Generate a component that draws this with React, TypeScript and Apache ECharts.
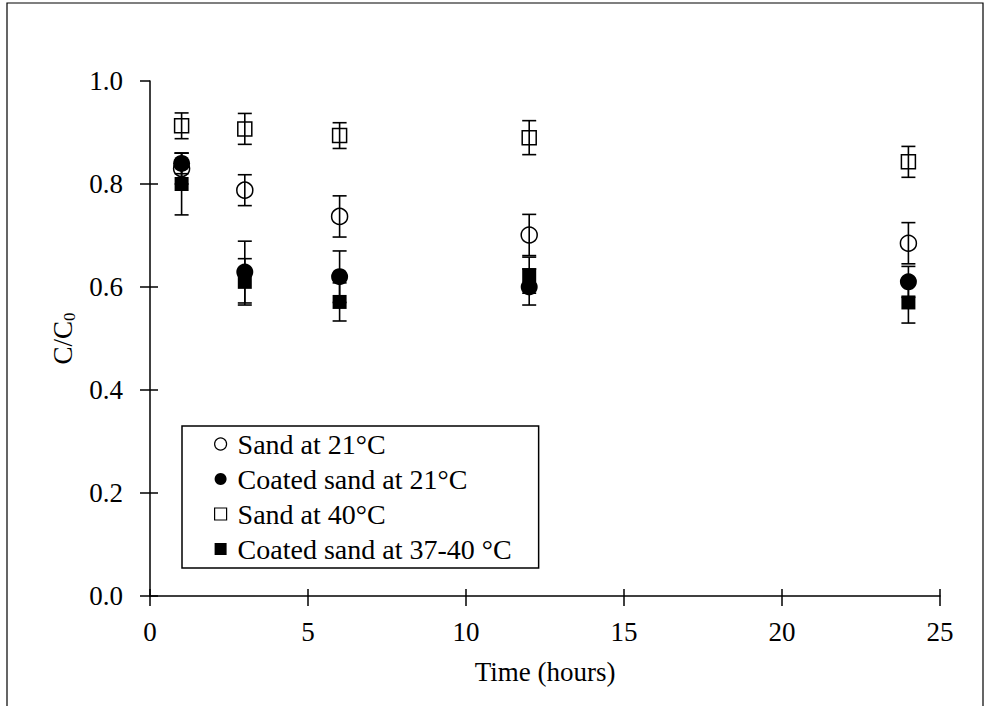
import React, { useEffect, useRef } from "react";
import * as echarts from "echarts";

const times = [1, 3, 6, 12, 24];
const sand21 = [0.83, 0.788, 0.737, 0.701, 0.685];
const sand21Err = [0.03, 0.03, 0.04, 0.04, 0.04];
const coated21 = [0.84, 0.629, 0.62, 0.6, 0.61];
const coated21Err = [0.02, 0.06, 0.05, 0.035, 0.03];
const sand40 = [0.913, 0.907, 0.894, 0.89, 0.843];
const sand40Err = [0.025, 0.03, 0.025, 0.033, 0.03];
const coated40 = [0.8, 0.61, 0.571, 0.623, 0.57];
const coated40Err = [0.06, 0.045, 0.037, 0.035, 0.04];

const seriesNames = [
  "Sand at 21°C",
  "Coated sand at 21°C",
  "Sand at 40°C",
  "Coated sand at 37-40 °C",
];
const xTicks = { min: 0, max: 25, interval: 5 };
const yTicks = { min: 0, max: 1, interval: 0.2 };
const yInnerTickValues = [0, 0.2, 0.4, 0.6, 0.8];

const FONT = '"Liberation Serif", "Times New Roman", serif';
const SQUARE = "path://M0,0H10V10H0Z";

export default function App() {
  const ref = useRef<HTMLDivElement>(null);
  useEffect(() => {
    if (!ref.current) return;
    const chart = echarts.init(ref.current, null, { renderer: "svg" });

    const pts = (vals: number[], errs: number[]) =>
      times.map((t, i) => [t, vals[i], errs[i]]);

    const errorBar = (name: string, vals: number[], errs: number[]) => ({
      type: "custom",
      name: name + " error",
      z: 5,
      silent: true,
      data: pts(vals, errs),
      renderItem: (params: any, api: any) => {
        const x = api.value(0);
        const y = api.value(1);
        const e = api.value(2);
        const top = api.coord([x, y + e]);
        const bot = api.coord([x, y - e]);
        const hw = 7;
        const style = { stroke: "#000", lineWidth: 1.6 };
        return {
          type: "group",
          children: [
            { type: "line", shape: { x1: top[0], y1: top[1], x2: bot[0], y2: bot[1] }, style },
            { type: "line", shape: { x1: top[0] - hw, y1: top[1], x2: top[0] + hw, y2: top[1] }, style },
            { type: "line", shape: { x1: bot[0] - hw, y1: bot[1], x2: bot[0] + hw, y2: bot[1] }, style },
          ],
        };
      },
    });

    const scatter = (
      name: string,
      vals: number[],
      symbol: string,
      size: number,
      filled: boolean
    ) => ({
      type: "scatter",
      name,
      z: 3,
      symbol,
      symbolSize: size,
      data: times.map((t, i) => [t, vals[i]]),
      itemStyle: filled
        ? { color: "#000", borderColor: "#000", borderWidth: 0, opacity: 1 }
        : { color: "rgba(255,255,255,0)", borderColor: "#000", borderWidth: 1.5, opacity: 1 },
    });

    const axisCommonX = {
      type: "value",
      position: "bottom",
      min: xTicks.min,
      max: xTicks.max,
      interval: xTicks.interval,
      splitLine: { show: false },
    };
    const axisCommonY = {
      type: "value",
      position: "left",
      min: yTicks.min,
      max: yTicks.max,
      interval: yTicks.interval,
      splitLine: { show: false },
    };

    chart.setOption({
      animation: false,
      backgroundColor: "#fff",
      grid: { left: 150, right: 49, top: 81, bottom: 110 },
      xAxis: [
        {
          ...axisCommonX,
          name: "Time (hours)",
          nameLocation: "middle",
          nameGap: 62,
          nameTextStyle: { fontFamily: FONT, fontSize: 27, color: "#000" },
          axisLine: { show: true, lineStyle: { color: "#000", width: 1.5 } },
          axisTick: { show: true, inside: false, length: 10, lineStyle: { color: "#000", width: 1.5 } },
          axisLabel: { fontFamily: FONT, fontSize: 27, color: "#000", margin: 22 },
        },
        {
          ...axisCommonX,
          axisLine: { show: false },
          axisTick: { show: true, inside: true, length: 7, lineStyle: { color: "#000", width: 1.5 } },
          axisLabel: { show: false },
        },
      ],
      yAxis: [
        {
          ...axisCommonY,
          name: "{a|C/C}{b|0}",
          nameLocation: "middle",
          nameGap: 68,
          nameTextStyle: {
            fontFamily: FONT,
            fontSize: 27,
            color: "#000",
            rich: {
              a: { fontFamily: FONT, fontSize: 27, color: "#000", lineHeight: 30 },
              b: { fontFamily: FONT, fontSize: 17, color: "#000", verticalAlign: "bottom", lineHeight: 17 },
            },
          },
          axisLine: { show: true, lineStyle: { color: "#000", width: 1.5 } },
          axisTick: { show: true, inside: false, length: 10, lineStyle: { color: "#000", width: 1.5 } },
          axisLabel: {
            fontFamily: FONT,
            fontSize: 27,
            color: "#000",
            margin: 27,
            formatter: (v: number) => v.toFixed(1),
          },
        },
        {
          ...axisCommonY,
          axisLine: { show: false },
          axisTick: {
            show: true,
            inside: true,
            length: 8,
            customValues: yInnerTickValues,
            lineStyle: { color: "#000", width: 1.5 },
          },
          axisLabel: { show: false },
        },
      ],
      legend: {
        orient: "vertical",
        left: 182,
        top: 426,
        padding: [4, 27, 5, 32],
        itemGap: 7,
        itemWidth: 24,
        itemHeight: 12,
        symbolKeepAspect: true,
        borderColor: "#000",
        borderWidth: 1.5,
        borderRadius: 0,
        textStyle: { fontFamily: FONT, fontSize: 28, color: "#000" },
        data: [
          { name: seriesNames[0], icon: "circle", itemStyle: { color: "#fff", borderColor: "#000", borderWidth: 1.2, opacity: 1 } },
          { name: seriesNames[1], icon: "circle", itemStyle: { color: "#000", borderColor: "#000", borderWidth: 0, opacity: 1 } },
          { name: seriesNames[2], icon: SQUARE, itemStyle: { color: "#fff", borderColor: "#000", borderWidth: 1.2, opacity: 1 } },
          { name: seriesNames[3], icon: SQUARE, itemStyle: { color: "#000", borderColor: "#000", borderWidth: 0, opacity: 1 } },
        ],
      },
      graphic: [
        {
          type: "rect",
          shape: { x: 7, y: 3, width: 976, height: 720 },
          style: { fill: "none", stroke: "#000", lineWidth: 1.2 },
          silent: true,
          z: 100,
        },
      ],
      series: [
        scatter(seriesNames[0], sand21, "circle", 16, false),
        scatter(seriesNames[1], coated21, "circle", 17, true),
        scatter(seriesNames[2], sand40, "rect", 14, false),
        scatter(seriesNames[3], coated40, "rect", 14, true),
        errorBar(seriesNames[0], sand21, sand21Err),
        errorBar(seriesNames[1], coated21, coated21Err),
        errorBar(seriesNames[2], sand40, sand40Err),
        errorBar(seriesNames[3], coated40, coated40Err),
      ],
    });
    return () => chart.dispose();
  }, []);

  return (
    <div
      ref={ref}
      style={{ position: "fixed", left: 0, top: 0, width: 989, height: 706, background: "#fff" }}
    />
  );
}
